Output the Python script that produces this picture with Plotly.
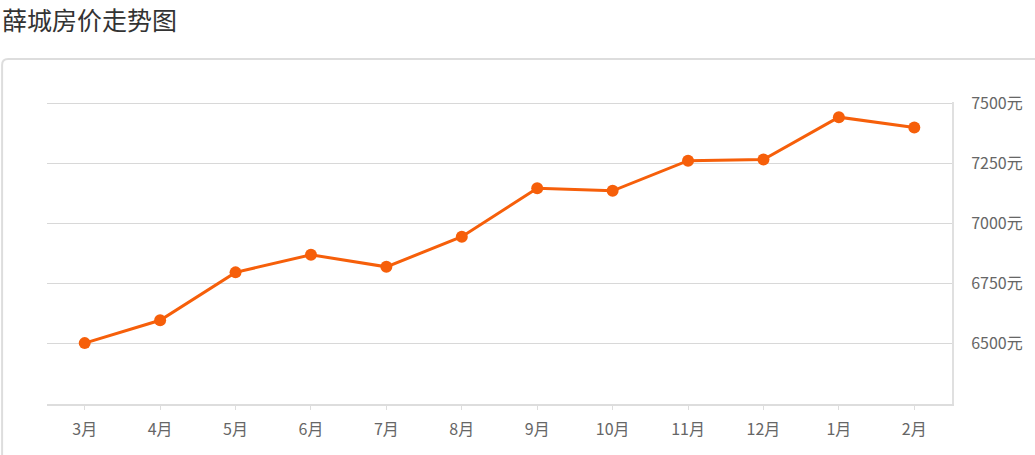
import plotly.graph_objects as go

months = ["3月", "4月", "5月", "6月", "7月", "8月", "9月", "10月", "11月", "12月", "1月", "2月"]
prices = [6503, 6598, 6797, 6870, 6820, 6945, 7147, 7136, 7261, 7266, 7442, 7399]
y_ticks = [6500, 6750, 7000, 7250, 7500]
y_tick_labels = [f"{v}元" for v in y_ticks]
title_text = "薛城房价走势图"

W, H = 1035, 455
L, R, T, B = 47, 81, 102, 51
pw, ph = W - L - R, H - T - B

def px(x):
    return (x - L) / pw

def py(y):
    return (H - B - y) / ph

FONT = "Noto Sans CJK SC, Microsoft YaHei, sans-serif"
ORANGE = "#f65f0a"

fig = go.Figure()
fig.add_trace(go.Scatter(
    x=months, y=prices, mode="lines+markers",
    line=dict(color=ORANGE, width=3),
    marker=dict(color=ORANGE, size=12),
    hoverinfo="skip", showlegend=False,
))

# container box with rounded top-left corner
x0, y0, x1, y1, r = 2, 59, 1045, 480, 6
path = (f"M {px(x0)} {py(y1)} L {px(x0)} {py(y0 + r)} "
        f"Q {px(x0)} {py(y0)} {px(x0 + r)} {py(y0)} L {px(x1)} {py(y0)}")
fig.add_shape(type="path", path=path, xref="paper", yref="paper",
              line=dict(color="#dddddd", width=2), layer="below")

fig.update_layout(
    width=W, height=H,
    margin=dict(l=L, r=R, t=T, b=B),
    paper_bgcolor="white", plot_bgcolor="white",
    font=dict(family=FONT, size=16, color="#666666"),
    title=dict(text=title_text, x=2 / W, xref="container", xanchor="left",
               y=1 - 21 / H, yref="container", yanchor="middle",
               font=dict(family=FONT, size=25, color="#333333"), pad=dict(l=0, t=0)),
    xaxis=dict(type="category", range=[-0.5, len(months) - 0.5],
               showgrid=False, showline=True, linecolor="#dddddd", linewidth=2,
               ticks="outside", ticklen=4, tickcolor="#dddddd", tickwidth=1,
               ticklabelstandoff=6, zeroline=False,
               tickfont=dict(family=FONT, size=16, color="#666666")),
    yaxis=dict(side="right", range=[6250, 7505],
               tickvals=y_ticks, ticktext=y_tick_labels,
               showgrid=True, gridcolor="#d8d8d8", gridwidth=1,
               showline=True, linecolor="#e0e0e0", linewidth=2,
               ticks="", ticklabelstandoff=14, zeroline=False,
               tickfont=dict(family=FONT, size=16, color="#666666")),
    hovermode=False,
)

fig.write_html("out.html", config={"displayModeBar": False},
               post_script="document.body.style.margin='0';document.body.style.overflow='hidden';")
